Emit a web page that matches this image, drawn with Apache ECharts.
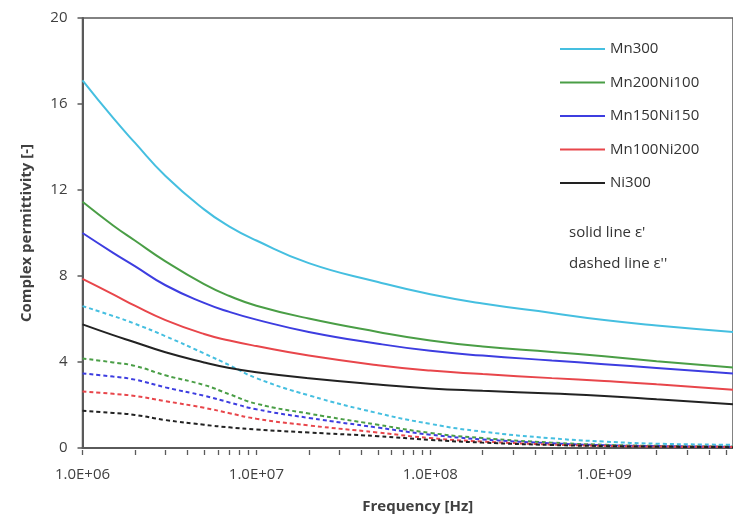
<!DOCTYPE html>
<html>
<head>
<meta charset="utf-8">
<script src="https://cdn.jsdelivr.net/npm/echarts@6/dist/echarts.min.js"></script>
<style>
  html, body { margin: 0; padding: 0; background: #fff; }
  #chart { width: 733px; height: 519px; }
</style>
</head>
<body>
<div id="chart"></div>
<script>
// Frequencies [Hz]
const frequencies = [1e6, 1.5e6, 2e6, 3e6, 5e6, 7e6, 1e7, 2e7, 5e7, 1e8, 2e8, 5e8, 1e9, 2e9, 5.5e9];

// Real part ε' (solid lines)
const mn300Real      = [17.1, 15.35, 14.2, 12.65, 11.1, 10.3, 9.65, 8.6, 7.72, 7.15, 6.72, 6.28, 5.95, 5.7, 5.4];
const mn200ni100Real = [11.45, 10.35, 9.65, 8.68, 7.62, 7.07, 6.62, 6.02, 5.4, 5.0, 4.72, 4.47, 4.27, 4.04, 3.74];
const mn150ni150Real = [10.0, 9.08, 8.46, 7.57, 6.75, 6.33, 5.97, 5.4, 4.85, 4.52, 4.3, 4.07, 3.9, 3.72, 3.47];
const mn100ni200Real = [7.87, 7.15, 6.62, 5.95, 5.3, 5.0, 4.74, 4.3, 3.85, 3.6, 3.44, 3.25, 3.12, 2.97, 2.71];
const ni300Real      = [5.75, 5.25, 4.92, 4.45, 3.98, 3.72, 3.52, 3.24, 2.95, 2.77, 2.66, 2.53, 2.42, 2.27, 2.04];

// Imaginary part ε'' (dashed lines)
const mn300Imag      = [6.6, 6.14, 5.78, 5.2, 4.4, 3.85, 3.25, 2.45, 1.62, 1.12, 0.76, 0.45, 0.3, 0.2, 0.15];
const mn200ni100Imag = [4.16, 3.98, 3.82, 3.38, 2.93, 2.5, 2.06, 1.6, 1.08, 0.7, 0.46, 0.25, 0.15, 0.1, 0.07];
const mn150ni150Imag = [3.47, 3.32, 3.18, 2.82, 2.43, 2.12, 1.8, 1.4, 0.95, 0.62, 0.4, 0.22, 0.13, 0.09, 0.06];
const mn100ni200Imag = [2.63, 2.52, 2.42, 2.18, 1.87, 1.62, 1.36, 1.05, 0.72, 0.46, 0.3, 0.16, 0.1, 0.07, 0.05];
const ni300Imag      = [1.73, 1.63, 1.54, 1.3, 1.08, 0.96, 0.86, 0.72, 0.55, 0.38, 0.25, 0.14, 0.09, 0.06, 0.04];

const seriesNames = ['Mn300', 'Mn200Ni100', 'Mn150Ni150', 'Mn100Ni200', 'Ni300'];
const seriesColors = ['#45bfe0', '#4a9e46', '#3d3de0', '#e8464b', '#222222'];
const realValues = [mn300Real, mn200ni100Real, mn150ni150Real, mn100ni200Real, ni300Real];
const imagValues = [mn300Imag, mn200ni100Imag, mn150ni150Imag, mn100ni200Imag, ni300Imag];

const xMin = 1e6, xMax = 5.5e9;

// tick positions (1..9 per decade), placed on a log10 helper axis
const tickVals = [];
for (let e = 6; e <= 9; e++) {
  for (let k = 1; k <= 9; k++) {
    const v = k * Math.pow(10, e);
    if (v >= xMin && v <= xMax) tickVals.push(Math.log10(v));
  }
}

function pairs(vals) { return frequencies.map((f, i) => [f, vals[i]]); }

const series = [];
realValues.forEach((vals, i) => {
  series.push({
    name: seriesNames[i], type: 'line', data: pairs(vals), smooth: 0.5,
    symbol: 'none', xAxisIndex: 0,
    lineStyle: { color: seriesColors[i], width: 2 },
    itemStyle: { color: seriesColors[i] }, z: 3
  });
});
imagValues.forEach((vals, i) => {
  series.push({
    name: seriesNames[i] + ' ε\'\'', type: 'line', data: pairs(vals), smooth: 0.5,
    symbol: 'none', xAxisIndex: 0,
    lineStyle: { color: seriesColors[i], width: 2, type: [4, 3] },
    itemStyle: { color: seriesColors[i] }, z: 2
  });
});

const gridTop = 18, gridBottom = 69, chartH = 519;
const gridH = chartH - gridTop - gridBottom;

const font = '"Open Sans", "Noto Sans", sans-serif';
const chart = echarts.init(document.getElementById('chart'), null, { renderer: 'canvas' });
chart.setOption({
  animation: false,
  backgroundColor: '#ffffff',
  grid: { left: 82.5, top: gridTop, right: -3, bottom: gridBottom, show: true, borderColor: '#5a5a5a', borderWidth: 1.5, backgroundColor: 'transparent' },
  legend: {
    data: seriesNames, orient: 'vertical', left: 555, top: 36.5,
    icon: 'rect', itemWidth: 45, itemHeight: 2, itemGap: 18.5,
    textStyle: { fontFamily: font, fontSize: 15, color: '#333', lineHeight: 15 }
  },
  xAxis: [{
    type: 'log', logBase: 10, min: xMin, max: xMax, position: 'bottom',
    name: 'Frequency [Hz]', nameLocation: 'middle', nameGap: 51,
    nameTextStyle: { fontFamily: font, fontSize: 15, fontWeight: 'bold', color: '#404040', padding: [0, 0, 0, 20] },
    axisLine: { show: true, lineStyle: { color: '#5a5a5a', width: 2 } },
    axisTick: { show: false },
    axisLabel: {
      fontFamily: font, fontSize: 15, color: '#404040', margin: 19, showMaxLabel: false,
      formatter: function (v) {
        const e = Math.round(Math.log10(v));
        const m = v / Math.pow(10, e);
        return m.toFixed(1) + 'E+' + (e < 10 ? '0' : '') + e;
      }
    },
    splitLine: { show: false }
  }, {
    // helper axis only for the tick marks, moved from the top down onto the bottom axis line
    type: 'value', min: Math.log10(xMin), max: Math.log10(xMax), position: 'top', offset: -gridH,
    axisLine: { show: false },
    axisTick: { show: true, inside: true, length: 5, customValues: tickVals, lineStyle: { color: '#5a5a5a', width: 1.3 } },
    axisLabel: { show: false }, splitLine: { show: false }
  }],
  yAxis: {
    type: 'value', min: 0, max: 20, interval: 4,
    name: 'Complex permittivity [-]', nameLocation: 'middle', nameGap: 48,
    nameTextStyle: { fontFamily: font, fontSize: 15, fontWeight: 'bold', color: '#404040' },
    axisLine: { show: true, lineStyle: { color: '#5a5a5a', width: 2 } },
    axisTick: { show: true, length: 5, lineStyle: { color: '#5a5a5a', width: 1.5 } },
    axisLabel: { fontFamily: font, fontSize: 15, color: '#404040', margin: 15 },
    splitLine: { show: false }
  },
  graphic: [
    { type: 'text', left: 569, top: 225, style: { text: 'solid line ε\'', font: '15px ' + font, fill: '#333' } },
    { type: 'text', left: 569, top: 256, style: { text: 'dashed line ε\'\'', font: '15px ' + font, fill: '#333' } }
  ],
  series: series
});
</script>
</body>
</html>
